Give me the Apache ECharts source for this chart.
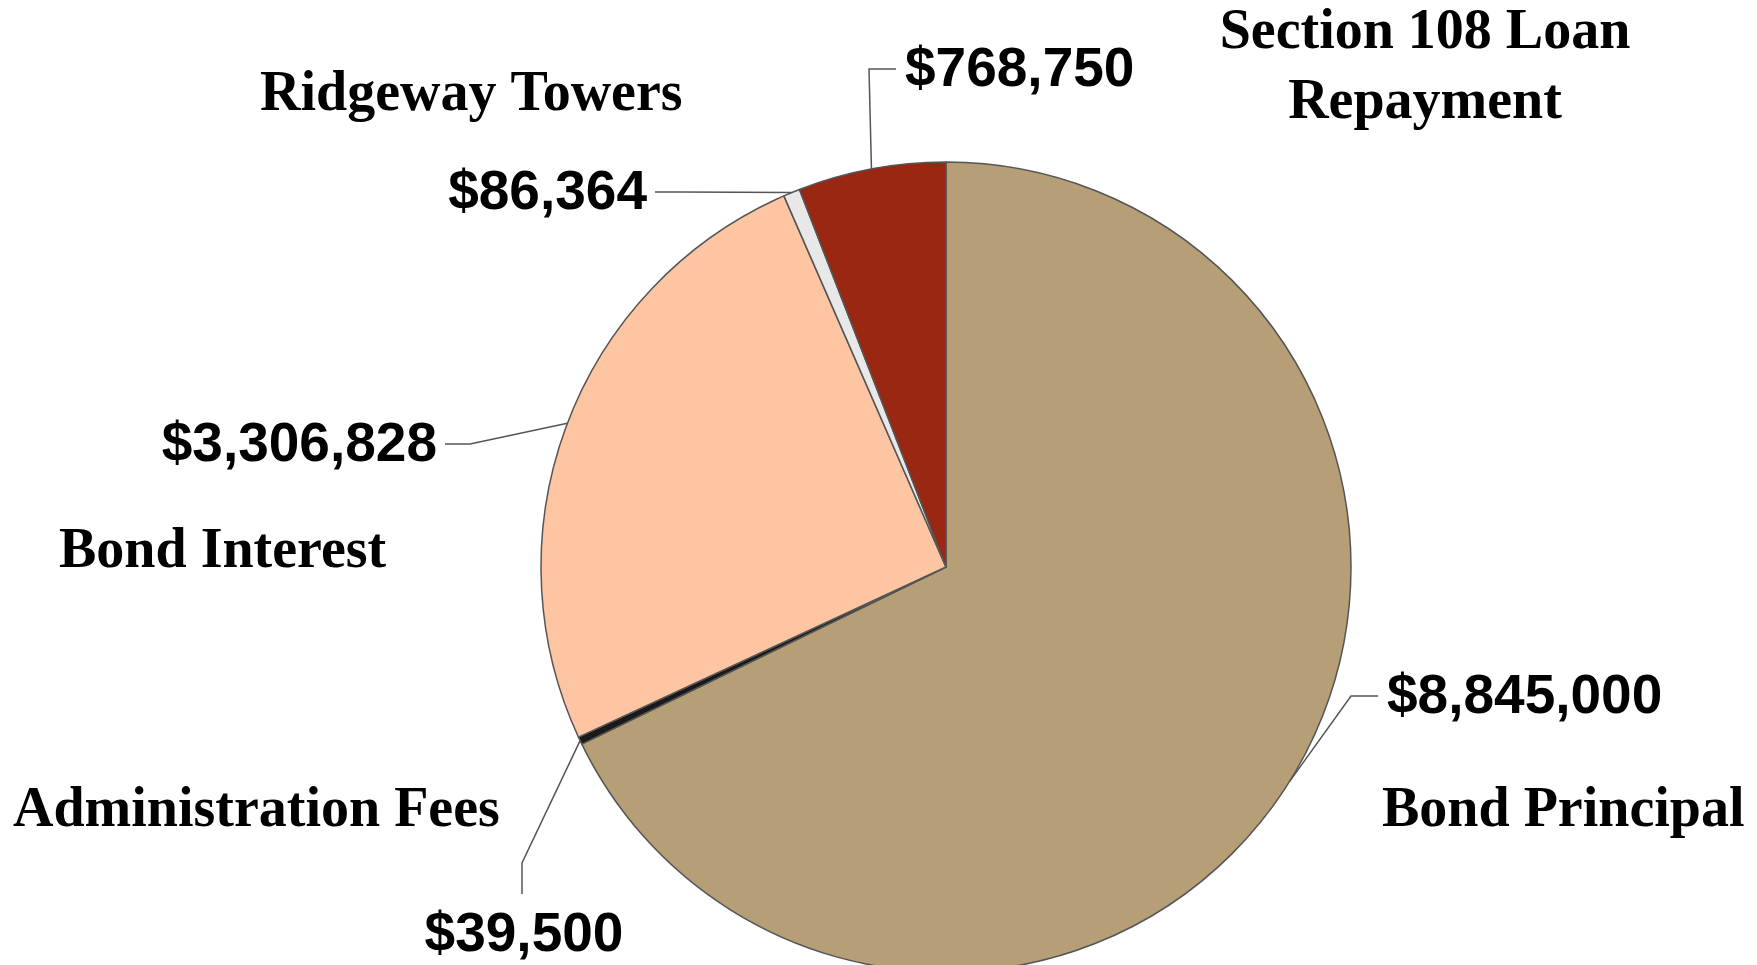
<!DOCTYPE html>
<html lang="en">
<head>
<meta charset="utf-8">
<title>Uses of Funds</title>
<script src="https://cdn.jsdelivr.net/npm/echarts@6/dist/echarts.min.js"></script>
<style>
    html, body { margin: 0; padding: 0; background: #fff; }
    #main { width: 1757px; height: 965px; }
</style>
</head>
<body>
<div id="main"></div>
<script type="text/javascript">
    // slices, clockwise from 12 o'clock
    var categories = ['Bond Principal', 'Administration Fees', 'Bond Interest', 'Ridgeway Towers', 'Section 108 Loan\nRepayment'];
    var amounts = [8845000, 39500, 3306828, 86364, 768750];
    var sliceColors = ['#b69e76', '#1a1a1a', '#fdc5a2', '#e8e8e8', '#992711'];

    // label placement (px). side = where the leader line enters the value label
    var valueLabelPos = [
        {x: 1387, y: 698, align: 'left', side: 'right'},
        {x: 524, y: 936, align: 'center', side: 'bottom'},
        {x: 437, y: 446, align: 'right', side: 'left'},
        {x: 647, y: 194, align: 'right', side: 'left'},
        {x: 905, y: 71, align: 'left', side: 'right'}
    ];
    var nameLabelPos = [
        {x: 1382, y: 812, align: 'left'},
        {x: 13, y: 812, align: 'left'},
        {x: 59, y: 553, align: 'left'},
        {x: 260, y: 96, align: 'left'},
        {x: 1425, y: 69, align: 'center'}
    ];

    var pieCenter = [946, 567];
    var pieRadius = 405;

    function money(v) {
        return '$' + v.toLocaleString('en-US');
    }

    function leader(start, p) {
        var end, elbow;
        if (p.side == 'right') {
            end = [p.x - 9, p.y - 2];
            elbow = [p.x - 36, p.y - 2];
        } else if (p.side == 'left') {
            end = [p.x + 8, p.y - 2];
            elbow = [p.x + 33, p.y - 2];
        } else {
            end = [p.x - 2, p.y - 42];
            elbow = [p.x - 2, p.y - 73];
        }
        return [start, elbow, end];
    }

    var valueData = [];
    var nameData = [];
    for (var i = 0; i < categories.length; i++) {
        valueData.push({name: categories[i], value: amounts[i], itemStyle: {color: sliceColors[i]}});
        nameData.push({name: categories[i], value: amounts[i]});
    }

    var chart = echarts.init(document.getElementById('main'));
    chart.setOption({
        animation: false,
        backgroundColor: '#ffffff',
        series: [
            {
                type: 'pie',
                center: pieCenter,
                radius: pieRadius,
                startAngle: 90,
                clockwise: true,
                avoidLabelOverlap: false,
                silent: true,
                data: valueData,
                itemStyle: {
                    borderColor: '#555555',
                    borderWidth: 1.5
                },
                label: {
                    show: true,
                    position: 'outside',
                    formatter: function (p) { return money(p.value); },
                    fontFamily: 'Liberation Sans',
                    fontWeight: 'bold',
                    fontSize: 55,
                    color: '#000'
                },
                labelLine: {
                    show: true,
                    length: 20,
                    length2: 20,
                    lineStyle: {color: '#555555', width: 1.5}
                },
                labelLayout: function (params) {
                    var p = valueLabelPos[params.dataIndex];
                    var pts = params.labelLinePoints;
                    var start = pts ? pts[0] : pieCenter;
                    return {
                        x: p.x,
                        y: p.y,
                        align: p.align,
                        verticalAlign: 'middle',
                        labelLinePoints: leader(start, p)
                    };
                }
            },
            {
                // category names, no leader lines
                type: 'pie',
                center: pieCenter,
                radius: pieRadius,
                startAngle: 90,
                clockwise: true,
                avoidLabelOverlap: false,
                silent: true,
                data: nameData,
                itemStyle: {color: 'rgba(0,0,0,0)', borderWidth: 0},
                label: {
                    show: true,
                    position: 'outside',
                    formatter: '{b}',
                    fontFamily: 'Liberation Serif',
                    fontWeight: 'bold',
                    fontSize: 56,
                    lineHeight: 70,
                    color: '#000'
                },
                labelLine: {show: false},
                labelLayout: function (params) {
                    var p = nameLabelPos[params.dataIndex];
                    return {
                        x: p.x,
                        y: p.y,
                        align: p.align,
                        verticalAlign: 'middle'
                    };
                }
            }
        ]
    });
</script>
</body>
</html>
